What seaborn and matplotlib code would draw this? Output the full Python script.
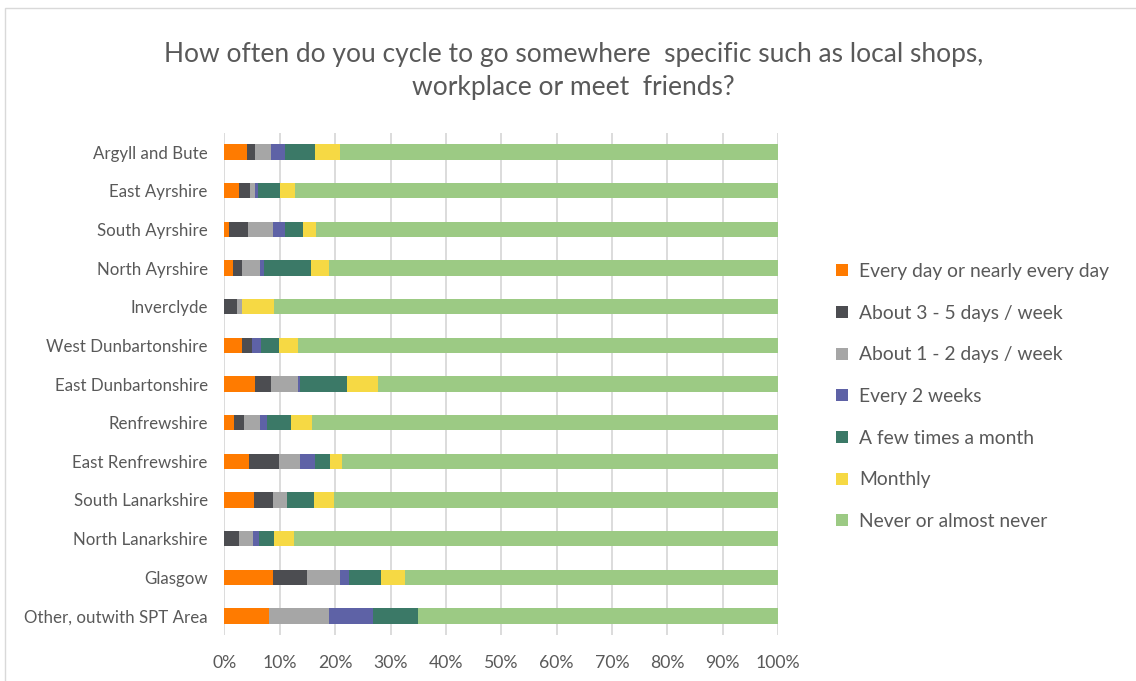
import matplotlib
matplotlib.use("Agg")
import matplotlib.pyplot as plt
from matplotlib.patches import Rectangle
from matplotlib.lines import Line2D
from matplotlib.ticker import PercentFormatter
import numpy as np
import pandas as pd
import seaborn as sns

areas = [
    "Argyll and Bute", "East Ayrshire", "South Ayrshire", "North Ayrshire",
    "Inverclyde", "West Dunbartonshire", "East Dunbartonshire", "Renfrewshire",
    "East Renfrewshire", "South Lanarkshire", "North Lanarkshire", "Glasgow",
    "Other, outwith SPT Area",
]

frequencies = [
    "Every day or nearly every day", "About 3 - 5 days / week",
    "About 1 - 2 days / week", "Every 2 weeks", "A few times a month",
    "Monthly", "Never or almost never",
]

# Share of respondents (%) per area, one list per frequency
every_day     = [4.0, 2.6, 0.9, 1.5, 0.0, 3.2, 5.5, 1.8, 4.4, 5.3, 0.0, 8.7, 8.0]
days_3_5      = [1.5, 2.0, 3.4, 1.7, 2.2, 1.7, 2.9, 1.7, 5.5, 3.4, 2.6, 6.2, 0.0]
days_1_2      = [2.9, 0.9, 4.4, 3.2, 0.9, 0.0, 4.8, 2.9, 3.8, 2.6, 2.6, 5.9, 10.8]
every_2_weeks = [2.5, 0.6, 2.2, 0.8, 0.0, 1.7, 0.4, 1.2, 2.6, 0.0, 1.1, 1.7, 8.0]
few_per_month = [5.4, 4.0, 3.2, 8.4, 0.0, 3.2, 8.5, 4.5, 2.8, 4.9, 2.6, 5.7, 8.2]
monthly       = [4.5, 2.6, 2.4, 3.2, 5.8, 3.5, 5.6, 3.8, 2.1, 3.5, 3.6, 4.4, 0.0]
never         = [79.2, 87.3, 83.5, 81.2, 91.1, 86.7, 72.3, 84.1, 78.9, 80.4, 87.5, 67.4, 65.0]

colors = ["#FF7B00", "#4C4D51", "#A6A6A6", "#5E62A6", "#3B7967", "#F6D944", "#9CCA84"]

series = [every_day, days_3_5, days_1_2, every_2_weeks, few_per_month, monthly, never]
df = pd.DataFrame(dict(zip(frequencies, series)), index=areas)
cum = df.cumsum(axis=1)

sns.set_theme(style="white")
plt.rcParams["font.family"] = ["Lato", "DejaVu Sans"]
text_color = "#595959"

fig = plt.figure(figsize=(11.36, 6.81), dpi=100)
ax = fig.add_axes([0.1976, 0.0671, 0.4873, 0.738])

# Stacked bars: draw cumulative totals from the longest down to the shortest
for freq, col in reversed(list(zip(frequencies, colors))):
    plot_df = pd.DataFrame({"area": areas, "value": cum[freq].values})
    sns.barplot(data=plot_df, x="value", y="area", order=areas, color=col,
                width=0.4, errorbar=None, linewidth=0, saturation=1, ax=ax,
                zorder=2)

ax.set_xlim(0, 100)
ax.set_ylim(len(areas) - 0.5, -0.5)
ax.set_xticks(np.arange(0, 101, 10))
ax.xaxis.set_major_formatter(PercentFormatter(100, decimals=0))
ax.set_xlabel("")
ax.set_ylabel("")
ax.grid(axis="x", color="#D9D9D9", linewidth=1.3, zorder=0)
ax.set_axisbelow(True)
for s in ax.spines.values():
    s.set_visible(False)
ax.tick_params(axis="both", length=0, colors=text_color)
ax.tick_params(axis="y", pad=12, labelsize=12.2)
ax.tick_params(axis="x", pad=14.5, labelsize=12.7)

fig.text(0.505, 0.896, "How often do you cycle to go somewhere  specific such as local shops,\nworkplace or meet  friends?",
         ha="center", va="center", fontsize=19, color=text_color,
         linespacing=1.39)

handles = [Line2D([0], [0], marker="s", linestyle="none", markersize=9,
                  markerfacecolor=c, markeredgewidth=0) for c in colors]
leg = fig.legend(handles, frequencies, loc="center left",
                 bbox_to_anchor=(0.7264, 0.4178), frameon=False,
                 fontsize=13.9, labelspacing=1.28, handlelength=0.75,
                 handletextpad=0.5, borderpad=0)
for t in leg.get_texts():
    t.set_color(text_color)

# Chart frame (its right and bottom edges lie outside the canvas)
fig.patches.append(Rectangle((5 / 1136, -0.05), 1.1, 1.05 - 8 / 681,
                             transform=fig.transFigure, fill=False,
                             edgecolor="#D9D9D9", linewidth=1))

fig.savefig("out.png", dpi=100)
